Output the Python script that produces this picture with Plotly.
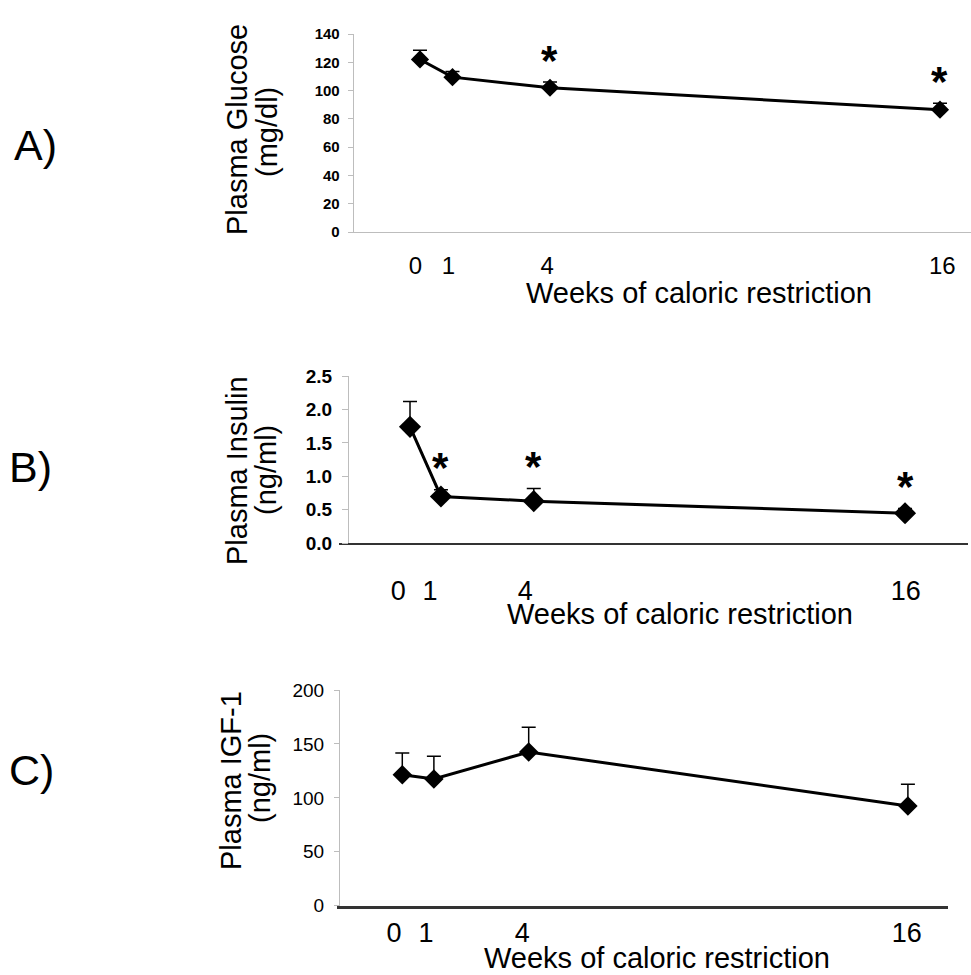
import plotly.graph_objects as go

W, H = 971, 975

weeks = [0, 1, 4, 16]
week_labels = ["0", "1", "4", "16"]

glucose = [122, 109.5, 102, 86.5]
glucose_err = [6.5, 4, 4, 4.5]
glucose_sig = [4, 16]

insulin = [1.74, 0.70, 0.63, 0.45]
insulin_err = [0.38, 0.10, 0.19, 0.07]
insulin_sig = [1, 4, 16]

igf1 = [121.5, 117.5, 142.5, 92.5]
igf1_err = [20, 21, 23, 20]
igf1_sig = []

panels = ["A)", "B)", "C)"]
y_titles = [("Plasma Glucose", "(mg/dl)"), ("Plasma Insulin", "(ng/ml)"), ("Plasma IGF-1", "(ng/ml)")]
x_title = "Weeks of caloric restriction"


def px(x):
    return x / W


def py(y):
    return 1 - y / H


FONT = "Liberation Sans, Arial, sans-serif"
fig = go.Figure()

series = [
    (glucose, glucose_err, glucose_sig, "x", "y", 14),
    (insulin, insulin_err, insulin_sig, "x2", "y2", 17),
    (igf1, igf1_err, igf1_sig, "x3", "y3", 15),
]
for vals, errs, sig, xa, ya, msize in series:
    fig.add_trace(go.Scatter(
        x=weeks, y=vals, xaxis=xa, yaxis=ya, mode="lines+markers",
        line=dict(color="black", width=3),
        marker=dict(symbol="diamond", size=msize, color="black"),
        error_y=dict(type="data", array=errs, arrayminus=[0] * len(errs), symmetric=False,
                     color="black", thickness=1.5, width=7),
        showlegend=False, hoverinfo="x+y",
    ))
    for w in sig:
        i = weeks.index(w)
        fig.add_annotation(x=w, y=vals[i] + errs[i], xref=xa, yref=ya, text="<b>*</b>",
                           showarrow=False, yanchor="middle", yshift=22,
                           font=dict(family=FONT, size=42, color="black"))

gray = "#bdbdbd"
dark = "#333333"

common = dict(showgrid=False, zeroline=False, automargin=False)

layout = dict(
    width=W, height=H, margin=dict(l=0, r=0, t=0, b=0, autoexpand=False),
    paper_bgcolor="white", plot_bgcolor="rgba(0,0,0,0)",
    font=dict(family=FONT, color="black"),
    # Panel A
    xaxis=dict(domain=[px(348), 1.0], range=[-2.215, 16.954], anchor="y",
               showline=True, linecolor=gray, linewidth=1, showticklabels=False, ticks="", **common),
    yaxis=dict(domain=[py(232), py(34)], range=[0, 140], anchor="free", position=px(352.7),
               showline=True, linecolor=gray, linewidth=1,
               ticks="outside", ticklen=5, tickcolor=gray, dtick=20, ticklabelstandoff=5,
               tickfont=dict(size=15, family=FONT, weight="bold"), **common),
    # Panel B
    xaxis2=dict(domain=[px(339), px(968)], range=[-2.295, 18.035], anchor="y2",
                showline=True, linecolor=dark, linewidth=2, showticklabels=False, ticks="", **common),
    yaxis2=dict(domain=[py(543.3), py(376)], range=[0, 2.5], anchor="free", position=px(348),
                showline=True, linecolor=gray, linewidth=1,
                ticks="outside", ticklen=6, tickcolor=gray, dtick=0.5, tickformat=".1f",
                ticklabelstandoff=6, tickfont=dict(size=19, family=FONT, weight="bold"), **common),
    # Panel C
    xaxis3=dict(domain=[px(337), px(948)], range=[-2.066, 17.269], anchor="y3",
                showline=True, linecolor=dark, linewidth=2.5, showticklabels=False, ticks="", **common),
    yaxis3=dict(domain=[py(905.7), py(690)], range=[0, 200], anchor="free", position=px(339),
                showline=True, linecolor=gray, linewidth=1,
                ticks="outside", ticklen=5, tickcolor=gray, dtick=50,
                ticklabelstandoff=6, tickfont=dict(size=19, family=FONT), **common),
    # Week label axes
    xaxis4=dict(domain=[px(348), 1.0], range=[-2.047, 16.872], overlaying="x", anchor="free",
                position=py(249), tickvals=weeks, ticktext=week_labels, showline=False,
                ticks="", tickfont=dict(size=24, family=FONT), **common),
    xaxis5=dict(domain=[px(339), px(968)], range=[-1.873, 17.963], overlaying="x2", anchor="free",
                position=py(572), tickvals=weeks, ticktext=week_labels, showline=False,
                ticks="", tickfont=dict(size=27, family=FONT), **common),
    xaxis6=dict(domain=[px(337), px(948)], range=[-1.779, 17.29], overlaying="x3", anchor="free",
                position=py(914), tickvals=weeks, ticktext=week_labels, showline=False,
                ticks="", tickfont=dict(size=27, family=FONT), **common),
)
fig.update_layout(**layout)

for xa in ["x4", "x5", "x6"]:
    fig.add_trace(go.Scatter(x=[None], y=[None], xaxis=xa, yaxis="y", showlegend=False,
                             hoverinfo="skip"))

# Panel letters
for lab, (cx, cy) in zip(panels, [(35, 145), (30, 467), (31, 770)]):
    fig.add_annotation(x=px(cx), y=py(cy), xref="paper", yref="paper", text=lab, showarrow=False,
                       xanchor="center", yanchor="middle", font=dict(family=FONT, size=43))

# Y titles (two lines each)
ytitle_pos = [((237, 130), (267, 132)), ((237, 471), (266, 470)), ((231, 781), (260, 778))]
for (l1, l2), (p1, p2) in zip(y_titles, ytitle_pos):
    for txt, (cx, cy) in ((l1, p1), (l2, p2)):
        fig.add_annotation(x=px(cx), y=py(cy), xref="paper", yref="paper", text=txt,
                           showarrow=False, textangle=-90, xanchor="center", yanchor="middle",
                           font=dict(family=FONT, size=29))

# X titles
for cx, cy in [(699, 293), (680, 614), (657, 958)]:
    fig.add_annotation(x=px(cx), y=py(cy), xref="paper", yref="paper", text=x_title,
                       showarrow=False, xanchor="center", yanchor="middle",
                       font=dict(family=FONT, size=29))

fig.write_html("out.html", config={"displayModeBar": False},
               post_script="document.body.style.margin='0';document.body.style.overflow='hidden';")
